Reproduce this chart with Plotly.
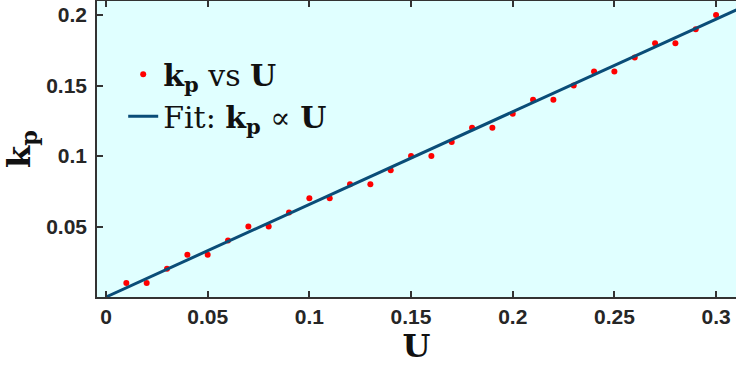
import plotly.graph_objects as go

# Data
U = [0.01, 0.02, 0.03, 0.04, 0.05, 0.06, 0.07, 0.08, 0.09, 0.10,
     0.11, 0.12, 0.13, 0.14, 0.15, 0.16, 0.17, 0.18, 0.19, 0.20,
     0.21, 0.22, 0.23, 0.24, 0.25, 0.26, 0.27, 0.28, 0.29, 0.30]
kp = [0.01, 0.01, 0.02, 0.03, 0.03, 0.04, 0.05, 0.05, 0.06, 0.07,
      0.07, 0.08, 0.08, 0.09, 0.10, 0.10, 0.11, 0.12, 0.12, 0.13,
      0.14, 0.14, 0.15, 0.16, 0.16, 0.17, 0.18, 0.18, 0.19, 0.20]
fit_U = [0.0, 0.31]
fit_kp = [0.0, 0.2037]

x_tickvals = [0, 0.05, 0.1, 0.15, 0.2, 0.25, 0.3]
x_ticktext = ["0", "0.05", "0.1", "0.15", "0.2", "0.25", "0.3"]
y_tickvals = [0.05, 0.1, 0.15, 0.2]
y_ticktext = ["0.05", "0.1", "0.15", "0.2"]

AXC = "#333333"
SERIF = "DejaVu Serif"

fig = go.Figure()
fig.add_trace(go.Scatter(
    x=U, y=kp, mode="markers",
    marker=dict(color="#ff0000", size=6, line=dict(width=0)),
    name="<b>k</b><sub><b>p</b></sub> vs <b>U</b>",
))
fig.add_trace(go.Scatter(
    x=fit_U, y=fit_kp, mode="lines",
    line=dict(color="#0a4d78", width=3),
    name="Fit: <b>k</b><sub><b>p</b></sub> \u221d <b>U</b>",
))

fig.update_layout(
    width=736, height=365,
    margin=dict(l=97, r=0, t=1, b=68),
    paper_bgcolor="white",
    plot_bgcolor="#e0ffff",
    showlegend=True,
    legend=dict(
        x=0.041, y=0.84, xanchor="left", yanchor="top",
        bgcolor="rgba(0,0,0,0)", borderwidth=0,
        font=dict(family=SERIF, size=30, color="#111111"),
        tracegroupgap=0, itemwidth=30,
    ),
    xaxis=dict(
        range=[-0.00443, 0.3098],
        tickvals=x_tickvals, ticktext=x_ticktext,
        ticks="inside", ticklen=6, tickwidth=1.5, tickcolor=AXC,
        showline=True, linecolor=AXC, linewidth=1.5, mirror="ticks",
        showgrid=False, zeroline=False,
        tickfont=dict(family="Liberation Sans", size=21, color="#262626", weight="bold"),
        title=dict(text="<b>U</b>", font=dict(family=SERIF, size=32, color="#111111"), standoff=2),
    ),
    yaxis=dict(
        range=[0, 0.21],
        tickvals=y_tickvals, ticktext=y_ticktext,
        ticks="inside", ticklen=6, tickwidth=1.5, tickcolor=AXC,
        showline=True, linecolor=AXC, linewidth=1.5, mirror=False,
        showgrid=False, zeroline=False,
        tickfont=dict(family="Liberation Sans", size=21, color="#262626", weight="bold"),
        ticklabelstandoff=4,
        title=dict(text="<b>k</b><sub><b>p</b></sub>", font=dict(family=SERIF, size=32, color="#111111"), standoff=6),
    ),
)

fig.write_html("out.html")
